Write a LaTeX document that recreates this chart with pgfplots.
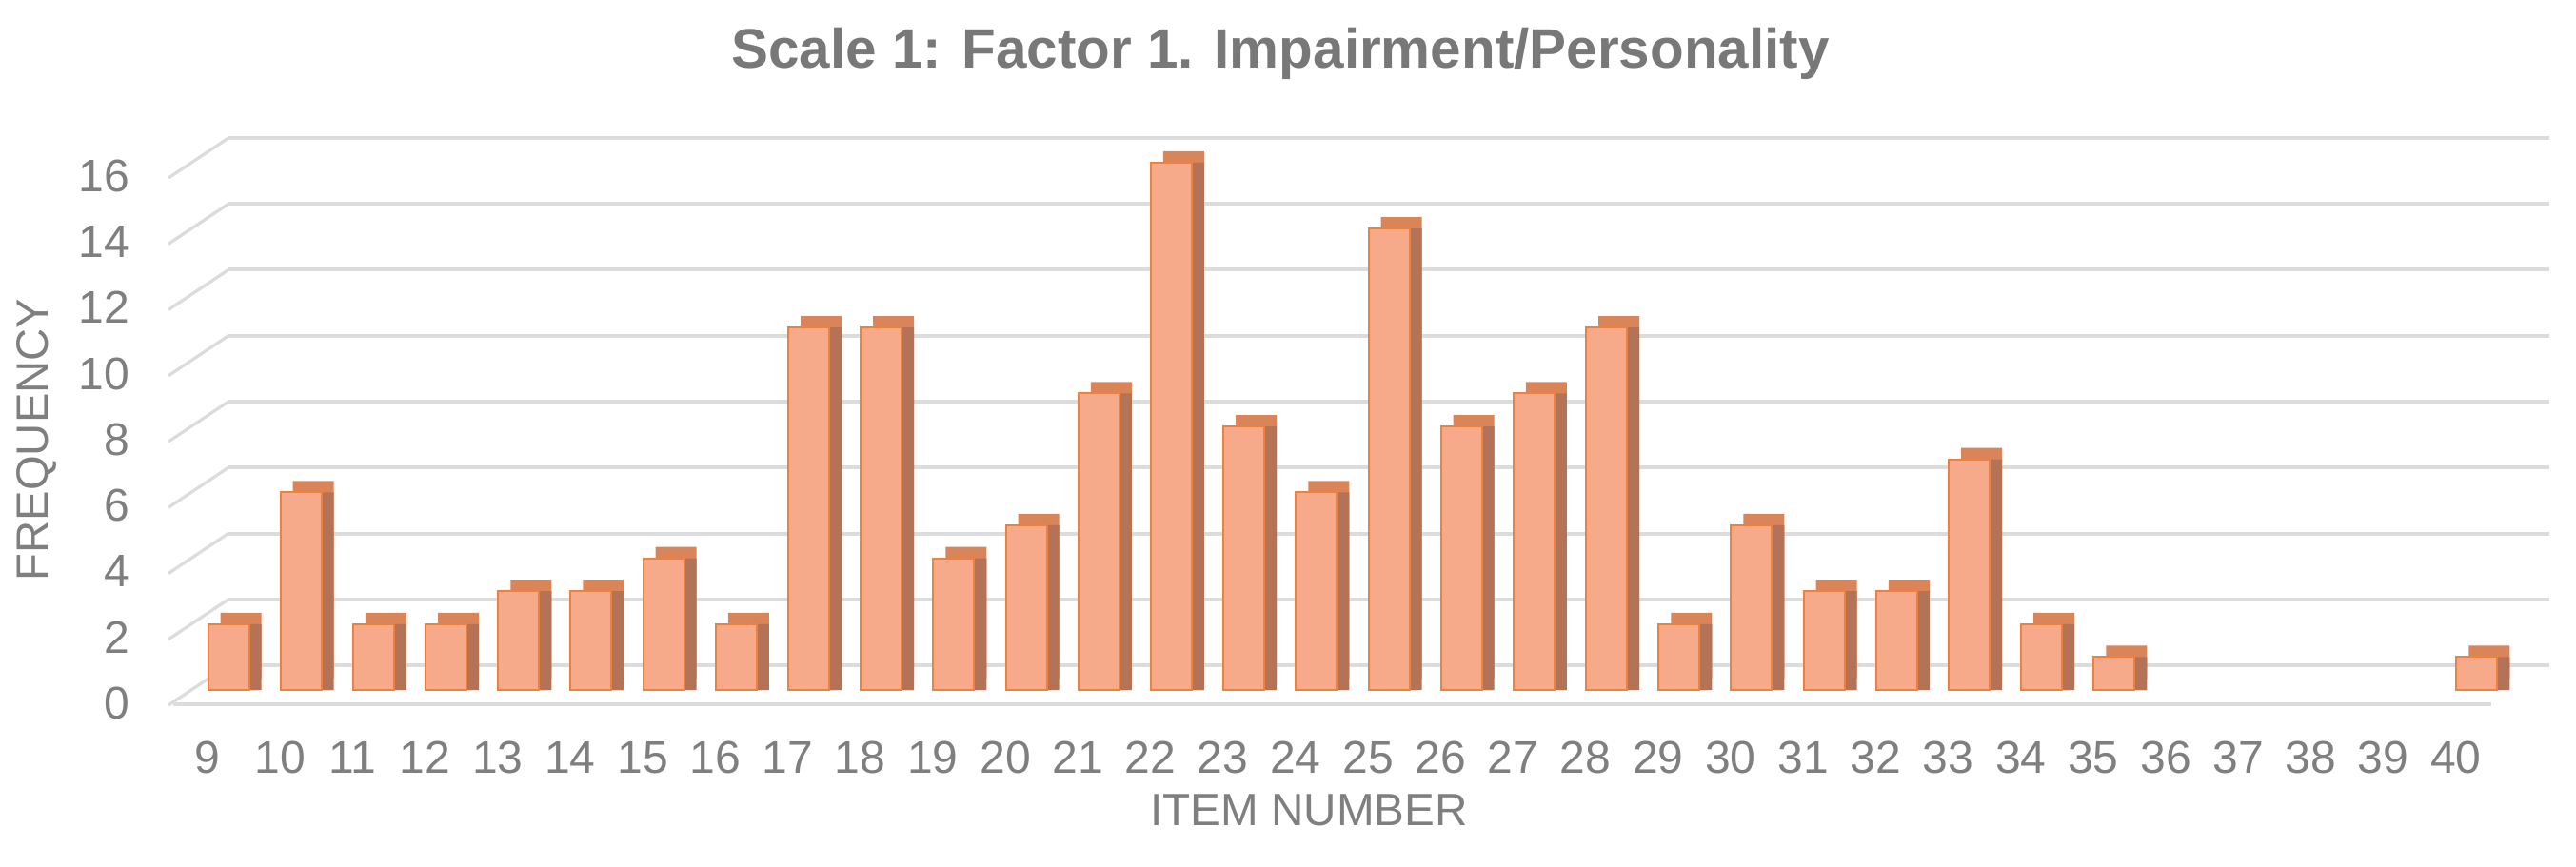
\documentclass[border=0pt]{standalone}
\usepackage{pgfplots}
\pgfplotsset{compat=1.18}
\usepackage{fontspec}
\setmainfont{Liberation Sans}

\definecolor{txtgray}{HTML}{7F7F7F}
\definecolor{titgray}{HTML}{787878}
\definecolor{gridgray}{HTML}{DCDCDC}
\definecolor{frontc}{HTML}{F6AA8A}
\definecolor{topc}{HTML}{D98459}
\definecolor{sidec}{HTML}{B47257}
\definecolor{edgec}{HTML}{EE8040}

\begin{document}
\begin{tikzpicture}
\begin{axis}[
    name=ax,
    scale only axis,
    width=609.5pt,
    height=138.5pt,
    xmin=9, xmax=41,
    ymin=0, ymax=16,
    xtick={9,...,40},
    ytick={0,2,...,16},
    axis line style={draw=none},
    tick style={draw=none},
    ymajorgrids,
    grid style={draw=gridgray, line width=1pt},
    clip=false,
    ybar,
    bar width=10.75pt,
    /pgf/number format/assume math mode=true,
    ticklabel style={font=\fontsize{12}{14}\selectfont, text=txtgray, inner sep=0pt},
    xticklabel style={anchor=base, yshift=-24pt, xshift=-5.5pt},
    yticklabel style={anchor=base east, yshift=-14.1pt, xshift=-25.75pt},
]
% perspective stubs of the gridlines and the front edge of the floor
\pgfplotsinvokeforeach{0,2,...,16}{
  \draw[gridgray, line width=0.8pt] (axis cs:9,#1) -- ++(-15.75pt,-10.5pt);
}
\draw[gridgray, line width=1pt] ([xshift=-14.5pt, yshift=-10.25pt]rel axis cs:0,0) -- ([xshift=-15.25pt, yshift=-10.25pt]rel axis cs:1,0);

% depth: top face
\addplot[bar shift=0pt, fill=topc, draw=none, xshift=3.25pt, yshift=-3.5pt] coordinates {
(9,2) (10,6) (11,2) (12,2) (13,3) (14,3) (15,4) (16,2) (17,11) (18,11)
(19,4) (20,5) (21,9) (22,16) (23,8) (24,6) (25,14) (26,8) (27,9) (28,11)
(29,2) (30,5) (31,3) (32,3) (33,7) (34,2) (35,1) (40,1)
};
% depth: side face
\addplot[bar shift=0pt, fill=sidec, draw=none, xshift=3.25pt, yshift=-6.5pt] coordinates {
(9,2) (10,6) (11,2) (12,2) (13,3) (14,3) (15,4) (16,2) (17,11) (18,11)
(19,4) (20,5) (21,9) (22,16) (23,8) (24,6) (25,14) (26,8) (27,9) (28,11)
(29,2) (30,5) (31,3) (32,3) (33,7) (34,2) (35,1) (40,1)
};
% front face
\addplot[bar shift=0pt, fill=frontc, draw=edgec, line width=0.5pt, yshift=-6.5pt] coordinates {
(9,2) (10,6) (11,2) (12,2) (13,3) (14,3) (15,4) (16,2) (17,11) (18,11)
(19,4) (20,5) (21,9) (22,16) (23,8) (24,6) (25,14) (26,8) (27,9) (28,11)
(29,2) (30,5) (31,3) (32,3) (33,7) (34,2) (35,1) (40,1)
};
\end{axis}
\node[anchor=base, font=\bfseries\fontsize{14.6}{17}\selectfont, text=titgray] at ([xshift=-28.5pt, yshift=18.25pt]ax.north) {Scale 1: Factor 1. Impairment/Personality};
\node[rotate=90, font=\fontsize{11.8}{14}\selectfont, text=txtgray] at ([xshift=-50.5pt, yshift=-10pt]ax.west) {FREQUENCY};
\node[font=\fontsize{11.9}{14}\selectfont, text=txtgray] at ([xshift=-21pt, yshift=-38pt]ax.south) {ITEM NUMBER};
\path ([xshift=-60pt, yshift=-52.75pt]ax.south west) rectangle ([xshift=7pt, yshift=36.25pt]ax.north east);
\end{tikzpicture}
\end{document}
